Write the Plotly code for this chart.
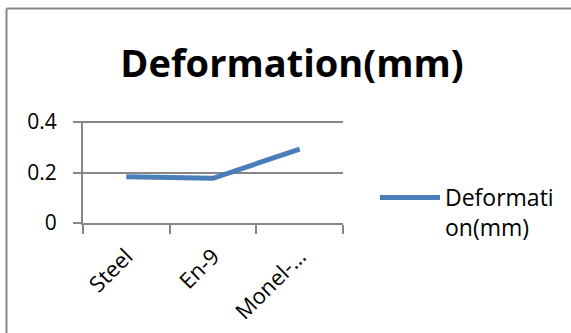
import plotly.graph_objects as go

categories = ["Steel", "En-9", "Monel-…"]
deformation = [0.183, 0.177, 0.293]
series_name = "Deformati<br>on(mm)"
title_text = "Deformation(mm)"
y_ticks = [0, 0.2, 0.4]
y_tick_labels = ["0", "0.2", "0.4"]

W, H = 571, 333
L, R, T, B = 83, 228, 121, 110
GRAY = "#868686"
BLUE = "#4a7ebb"
FONT = "Open Sans"

fig = go.Figure()
fig.add_trace(go.Scatter(
    x=categories, y=deformation, mode="lines", name=series_name,
    line=dict(color=BLUE, width=5),
))

pw = W - L - R
ph = H - T - B
def px_x(p):
    return (p - L) / pw
def px_y(p):
    return (H - B - p) / ph

fig.update_layout(
    width=W, height=H,
    margin=dict(l=L, r=R, t=T, b=B, autoexpand=False),
    paper_bgcolor="white", plot_bgcolor="white",
    font=dict(family=FONT, color="black"),
    title=dict(text=title_text, font=dict(family=FONT, size=38, color="black", weight="bold"),
               x=292 / W, xanchor="center", xref="container",
               y=1 - 64 / H, yanchor="middle", yref="container"),
    showlegend=True,
    legend=dict(x=px_x(375), xanchor="left", y=px_y(176), yanchor="top",
                font=dict(family=FONT, size=23, color="black"),
                itemwidth=60, valign="top", bgcolor="rgba(0,0,0,0)"),
    xaxis=dict(
        type="category", range=[-0.5, 2.5], automargin=False,
        showline=True, linecolor=GRAY, linewidth=2,
        ticks="outside", tickson="boundaries", ticklen=9, tickcolor=GRAY, tickwidth=2,
        tickangle=-45, tickfont=dict(family=FONT, size=22, color="black"),
        ticklabelstandoff=10,
        showgrid=False, zeroline=False,
    ),
    yaxis=dict(
        range=[0, 0.404], tickvals=y_ticks, ticktext=y_tick_labels, automargin=False,
        showline=True, linecolor=GRAY, linewidth=2,
        ticks="outside", ticklen=8, tickcolor=GRAY, tickwidth=2,
        showgrid=True, gridcolor=GRAY, gridwidth=2, zeroline=False,
        tickfont=dict(family=FONT, size=21, color="black"),
        ticklabelstandoff=12,
    ),
    shapes=[
        dict(type="line", xref="paper", yref="paper", x0=px_x(6.5), x1=px_x(600),
             y0=px_y(8.5), y1=px_y(8.5), line=dict(color=GRAY, width=2)),
        dict(type="line", xref="paper", yref="paper", x0=px_x(6.5), x1=px_x(6.5),
             y0=px_y(8.5), y1=px_y(360), line=dict(color=GRAY, width=2)),
    ],
)

fig.write_html("out.html", config={"displayModeBar": False},
               post_script="document.body.style.margin='0';")
